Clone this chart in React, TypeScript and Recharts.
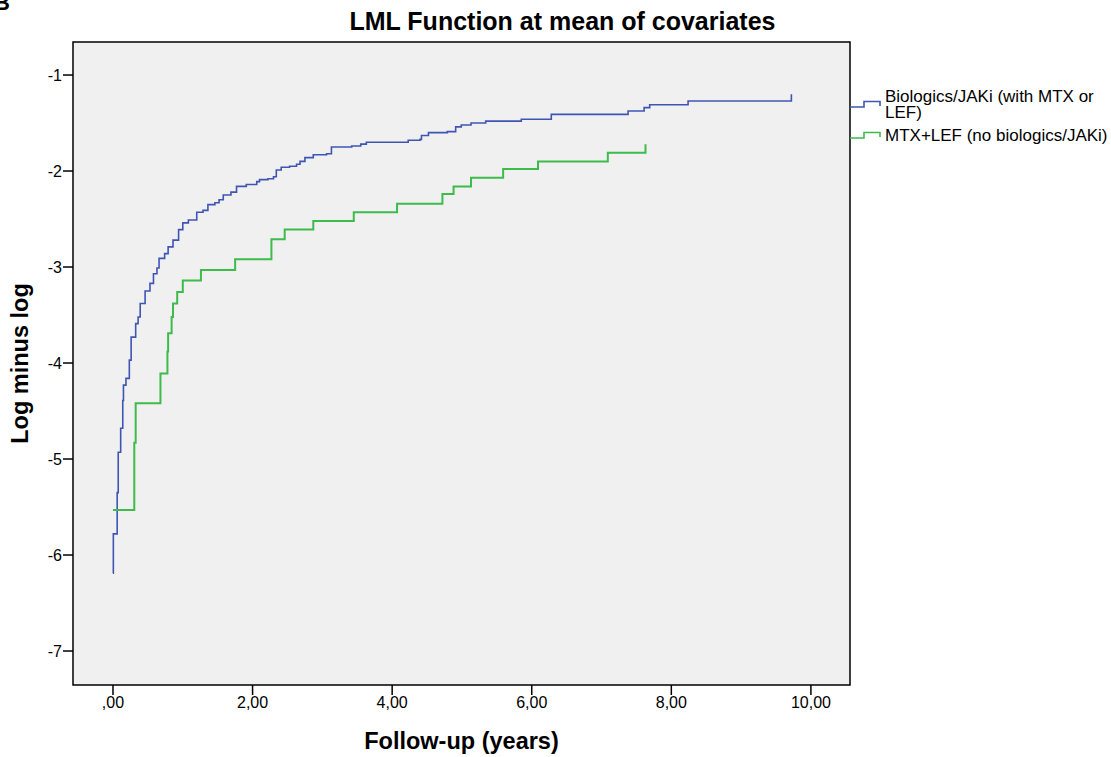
import { LineChart, Line, XAxis, YAxis, ReferenceArea } from 'recharts';

// Step points (follow-up time in years, log minus log survival)
const bioTime = [0.0, 0.005, 0.06, 0.075, 0.11, 0.14, 0.15, 0.186, 0.234, 0.26, 0.325, 0.36, 0.39, 0.46, 0.53, 0.58, 0.63, 0.66, 0.74, 0.79, 0.86, 0.94, 1.0, 1.08, 1.2, 1.29, 1.36, 1.46, 1.52, 1.58, 1.69, 1.77, 1.91, 2.06, 2.1, 2.22, 2.3, 2.34, 2.41, 2.53, 2.63, 2.68, 2.75, 2.87, 3.06, 3.13, 3.42, 3.55, 3.63, 4.23, 4.4, 4.42, 4.52, 4.79, 4.91, 4.99, 5.13, 5.34, 5.85, 6.28, 7.38, 7.61, 7.69, 8.24, 9.72];
const bioLml = [-6.19, -5.78, -5.35, -4.93, -4.68, -4.39, -4.23, -4.16, -3.97, -3.73, -3.59, -3.52, -3.38, -3.25, -3.17, -3.07, -3.01, -2.91, -2.86, -2.79, -2.72, -2.61, -2.54, -2.51, -2.43, -2.41, -2.35, -2.33, -2.3, -2.25, -2.22, -2.16, -2.14, -2.11, -2.09, -2.08, -2.06, -1.99, -1.96, -1.95, -1.93, -1.9, -1.86, -1.83, -1.82, -1.75, -1.74, -1.72, -1.7, -1.68, -1.67, -1.63, -1.6, -1.59, -1.54, -1.52, -1.5, -1.48, -1.46, -1.41, -1.375, -1.34, -1.31, -1.27, -1.2];

const mtxTime = [0.0, 0.305, 0.325, 0.68, 0.78, 0.79, 0.84, 0.86, 0.92, 1.0, 1.26, 1.75, 2.27, 2.46, 2.87, 3.45, 4.07, 4.72, 4.88, 5.13, 5.59, 6.09, 7.09, 7.63];
const mtxLml = [-5.53, -4.83, -4.42, -4.11, -3.88, -3.69, -3.52, -3.38, -3.26, -3.14, -3.03, -2.92, -2.71, -2.61, -2.52, -2.43, -2.34, -2.24, -2.16, -2.07, -1.98, -1.9, -1.81, -1.72];

const xTicks = [0, 2, 4, 6, 8, 10];
const yTicks = [-7, -6, -5, -4, -3, -2, -1];

const X_MIN = -0.573;
const X_MAX = 10.56;
const Y_MIN = -7.354;
const Y_MAX = -0.656;

const FONT = '"Liberation Sans", Arial, sans-serif';

const series = [
  {
    key: 'bio',
    name: 'Biologics/JAKi (with MTX or\nLEF)',
    color: '#3f55b3',
    width: 1.6,
    data: bioTime.map((t, i) => ({ t, v: bioLml[i] })),
  },
  {
    key: 'mtx',
    name: 'MTX+LEF (no biologics/JAKi)',
    color: '#3dbb4b',
    width: 2,
    data: mtxTime.map((t, i) => ({ t, v: mtxLml[i] })),
  },
];

const fmtX = (v: number) => (v === 0 ? ',00' : v.toFixed(2).replace('.', ','));

function StepLegend() {
  return (
    <div
      style={{
        position: 'absolute', left: 848, top: 89, width: 263,
        fontFamily: FONT, fontSize: 17, lineHeight: '16px', color: '#000',
      }}
    >
      {series.map((s) => (
        <div key={s.key} style={{ display: 'flex', alignItems: 'center', marginBottom: 7 }}>
          <svg width={33} height={10} style={{ flex: 'none', marginRight: 4 }}>
            <path d="M2 7 H16 V1.5 H32 V6" fill="none" stroke={s.color} strokeWidth={1.6} />
          </svg>
          <span style={{ whiteSpace: 'pre-line' }}>{s.name}</span>
        </div>
      ))}
    </div>
  );
}

export default function App() {
  return (
    <div style={{ position: 'absolute', left: 0, top: 0, width: 1111, height: 757, background: '#fff' }}>
      <div style={{ position: 'absolute', left: -6, top: -10, fontFamily: FONT, fontWeight: 'bold', fontSize: 22 }}>B</div>
      <div
        style={{
          position: 'absolute', left: 0, top: 7, width: 1125, textAlign: 'center',
          fontFamily: FONT, fontWeight: 'bold', fontSize: 25,
        }}
      >
        LML Function at mean of covariates
      </div>
      <LineChart width={1111} height={757} margin={{ top: 42, right: 261, bottom: 0, left: 0 }}>
        <ReferenceArea
          x1={X_MIN} x2={X_MAX} y1={Y_MIN} y2={Y_MAX}
          fill="#f0f0f0" fillOpacity={1} stroke="#000" strokeWidth={1.5}
        />
        <XAxis
          type="number" dataKey="t" domain={[X_MIN, X_MAX]} ticks={xTicks} allowDataOverflow
          tickFormatter={fmtX} axisLine={false} tickSize={10} tickMargin={2} height={72}
          tickLine={{ stroke: '#000', strokeWidth: 1.5 }}
          tick={{ fill: '#000', fontSize: 16, fontFamily: FONT }}
          label={{ value: 'Follow-up (years)', position: 'insideBottom', offset: 8, fill: '#000', fontSize: 23.5, fontWeight: 'bold', fontFamily: FONT }}
        />
        <YAxis
          type="number" domain={[Y_MIN, Y_MAX]} ticks={yTicks} allowDataOverflow
          axisLine={false} tickSize={10} tickMargin={1} width={73}
          tickLine={{ stroke: '#000', strokeWidth: 1.5 }}
          tick={{ fill: '#000', fontSize: 16, fontFamily: FONT }}
          label={{ value: 'Log minus log', angle: -90, position: 'insideLeft', offset: 20, style: { textAnchor: 'middle' }, fill: '#000', fontSize: 23.5, fontWeight: 'bold', fontFamily: FONT }}
        />
        {series.map((s) => (
          <Line
            key={s.key} data={s.data} dataKey="v" name={s.name} type="stepAfter"
            stroke={s.color} strokeWidth={s.width} dot={false} isAnimationActive={false}
          />
        ))}
      </LineChart>
      <StepLegend />
    </div>
  );
}
